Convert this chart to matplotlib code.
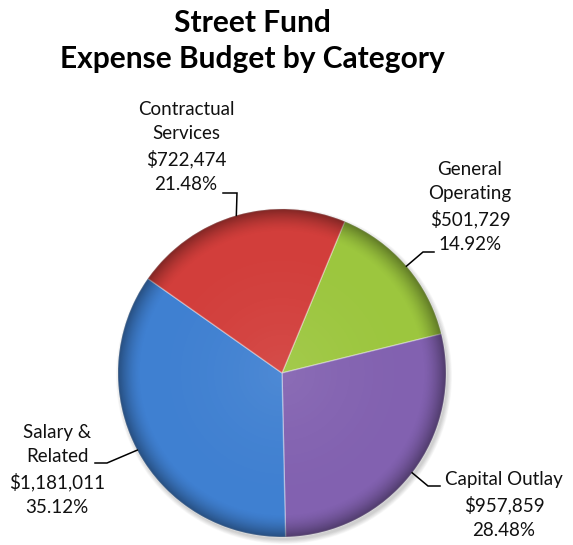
import numpy as np
import matplotlib
matplotlib.use("Agg")
import matplotlib.pyplot as plt
from matplotlib.patches import Circle

# ---- data ----
categories = ["General\nOperating", "Capital Outlay", "Salary &\nRelated", "Contractual\nServices"]
values = [501729, 957859, 1181011, 722474]
colors = ["#9cc63e", "#8261b0", "#3f80d1", "#d23e3b"]
title = "Street Fund\nExpense Budget by Category"

W, H = 573, 545
fig = plt.figure(figsize=(W / 100, H / 100), dpi=100)
ax = fig.add_axes([0, 0, 1, 1])
ax.set_xlim(0, W)
ax.set_ylim(0, H)
ax.set_aspect("equal")
ax.axis("off")

cx, cy, R = 282, H - 373, 164
start = 67.5

# soft shadow
for k in range(8):
    ax.add_patch(Circle((cx + 2, cy - 3), R + 4 - k * 0.6, color="black",
                        alpha=0.025, lw=0, zorder=0))

wedges, _ = ax.pie(values, colors=colors, startangle=start, counterclock=False,
                   center=(cx, cy), radius=R,
                   wedgeprops=dict(edgecolor=(1, 1, 1, 0.35), linewidth=1.0))
for w in wedges:
    w.set_zorder(1)
ax.set_xlim(0, W)
ax.set_ylim(0, H)

# bevel / gloss overlay
n = 400
xs = np.linspace(cx - R, cx + R, n)
ys = np.linspace(cy - R, cy + R, n)
X, Y = np.meshgrid(xs, ys)
r = np.hypot(X - cx, Y - cy) / R
a = np.clip((r - 0.86) / 0.14, 0, 1) ** 1.6 * 0.38
img = np.zeros((n, n, 4))
img[..., 3] = a
im = ax.imshow(img, extent=(cx - R, cx + R, cy - R, cy + R), origin="lower",
               zorder=2, interpolation="bilinear")
im.set_clip_path(Circle((cx, cy), R, transform=ax.transData))
hl = np.zeros((n, n, 4))
hl[..., :3] = 1
hl[..., 3] = np.clip(1 - r, 0, 1) ** 2 * 0.08
im2 = ax.imshow(hl, extent=(cx - R, cx + R, cy - R, cy + R), origin="lower",
                zorder=2, interpolation="bilinear")
im2.set_clip_path(Circle((cx, cy), R, transform=ax.transData))

font = "Lato"
ax.text(252, H - 41, title, ha="center", va="center", fontsize=21.5,
        fontweight="bold", family=font, linespacing=1.36)

layout = [
    dict(tx=470, ty=207, e1=(434, 252), e2=(423, 252)),   # General Operating
    dict(tx=504, ty=505, e1=(440, 486), e2=(428, 486)),   # Capital Outlay
    dict(tx=57, ty=470, e1=(95, 463), e2=(107, 463)),     # Salary
    dict(tx=186, ty=147, e1=(223, 193), e2=(237, 193)),   # Contractual
]
total = sum(values)
for w, cat, v, L in zip(wedges, categories, values, layout):
    th = np.deg2rad((w.theta1 + w.theta2) / 2)
    px, py = cx + R * np.cos(th), cy + R * np.sin(th)
    txt = f"{cat}\n${v:,.0f}\n{v / total * 100:.2f}%"
    ax.text(L["tx"], H - L["ty"], txt, ha="center", va="center", fontsize=13.5,
            family=font, linespacing=1.5, color="#111111")
    (x1, y1), (x2, y2) = L["e1"], L["e2"]
    ax.plot([x1, x2, px], [H - y1, H - y2, py], color="black", lw=1.1,
            solid_joinstyle="miter", zorder=3)

fig.savefig("out.png", dpi=100)
